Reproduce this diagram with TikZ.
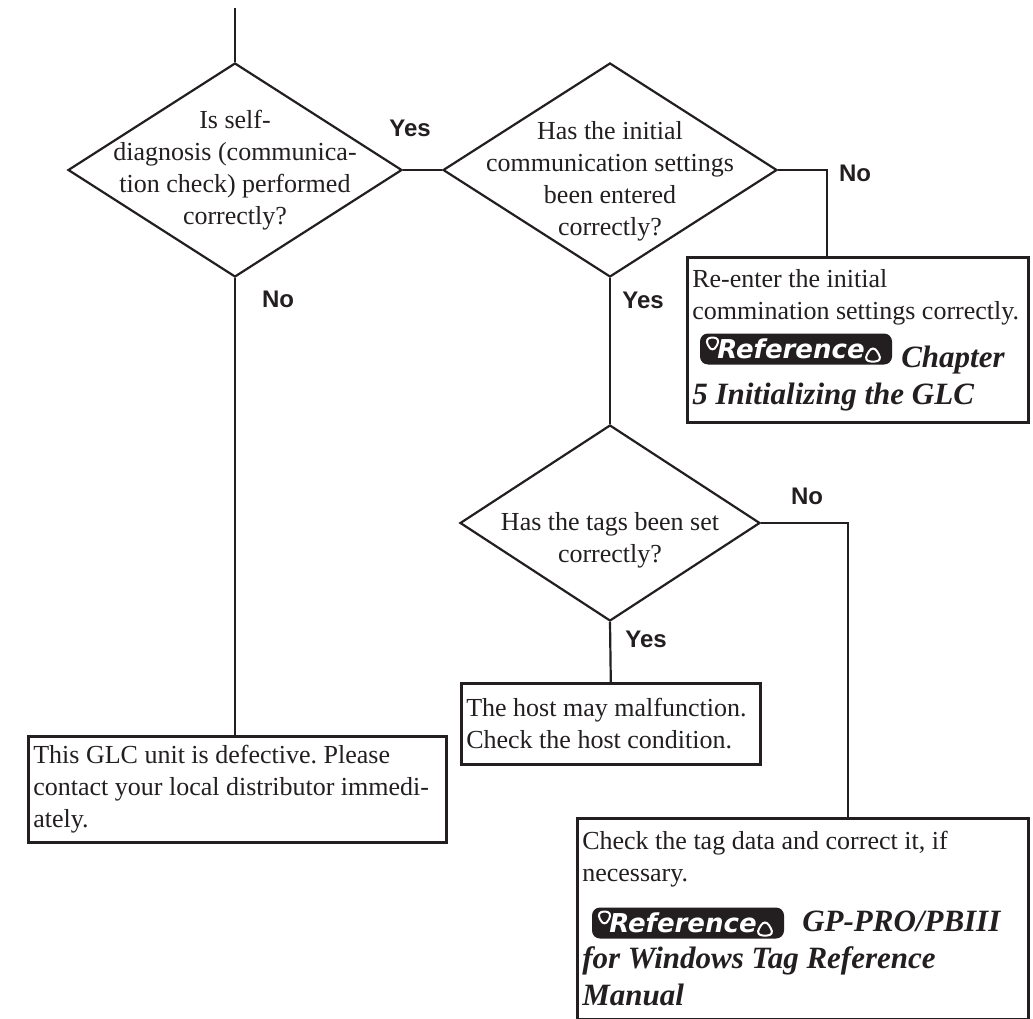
\documentclass[tikz,border=0pt]{standalone}
\usepackage{fontspec}
\setmainfont{Liberation Serif}
\setsansfont{Liberation Sans}
\newfontfamily\badgefont{DejaVu Sans}
\usetikzlibrary{shapes.geometric,shadows,calc,positioning}
\definecolor{ink}{HTML}{231F20}
\definecolor{shade}{HTML}{A0A0A0}
\frenchspacing
\tikzset{
  body/.style={font=\fontsize{26}{32}\selectfont},
  decision/.style={
    diamond, draw=ink, line width=2.2pt, fill=white, inner sep=0pt,
    minimum width=334pt, minimum height=214pt
  },
  qtext/.style={body, align=center, inner sep=0pt, text=ink},
  infobox/.style={
    rectangle, draw=ink, line width=2.6pt, fill=white, text=ink, body,
    align=flush left, anchor=north west, inner xsep=5pt, inner ysep=8pt,
    drop shadow={shadow xshift=1.5pt, shadow yshift=-1.5pt, fill=shade, opacity=1}
  },
  answer/.style={font=\sffamily\bfseries\fontsize{24}{28}\selectfont, text=ink, inner sep=0pt},
  refbadge/.style={
    rectangle, rounded corners=8pt, fill=ink, text=white, inner sep=0pt,
    font=\badgefont\bfseries\itshape\fontsize{26}{30}\selectfont,
    minimum width=192pt, minimum height=31pt,
    path picture={
      \draw[white, line width=2pt, line join=miter]
        ($(path picture bounding box.north west)+(4pt,-4pt)$) -- ++(17pt,0pt) -- ++(-8.5pt,-16pt) -- cycle;
      \draw[white, line width=2pt, line join=miter]
        ($(path picture bounding box.south east)+(-29pt,3pt)$) -- ++(20pt,0pt) -- ++(-10pt,17pt) -- cycle;
    }
  },
  link/.style={draw=ink, line width=2.2pt}
}
\newcommand{\reffont}{\fontsize{31}{37}\selectfont\bfseries\itshape}

\begin{document}
\begin{tikzpicture}[x=1pt,y=-1pt]
  \useasboundingbox (0,0) rectangle (1033,1019);

  % ---- Decisions ----
  \coordinate (entry) at (235,8);
  \node[decision] (selfdiag) at (235,170) {};
  \node[decision] (initset)  at (610,170) {};
  \node[decision, minimum width=300pt, minimum height=196pt] (tagset) at (610,523) {};

  \node[qtext] (selfdiagq) at (selfdiag) {Is self-\\diagnosis (communica-\\tion check) performed\\correctly?};
  \node[qtext, yshift=-11pt] (initsetq) at (initset) {Has the initial\\communication settings\\been entered\\correctly?};
  \node[qtext, yshift=-17pt] (tagsetq) at (tagset) {Has the tags been set\\correctly?};

  % ---- Outcomes ----
  \node[infobox, text width=408pt, minimum height=106pt] (defect) at (27,735)
    {This GLC unit is defective. Please\\contact your local distributor immedi-\\ately.};
  \node[infobox, text width=289pt, minimum height=81pt] (host) at (460,682)
    {The host may malfunction.\\Check the host condition.};
  \node[infobox, text width=331pt, minimum height=165pt] (reenter) at (686,256)
    {Re-enter the initial\\commination settings correctly.\par\vspace{11pt}%
     {\reffont\hspace*{209pt}Chapter\\5 Initializing the GLC\par}};
  \node[infobox, text width=441pt, minimum height=201pt] (fixtag) at (576,817)
    {Check the tag data and correct it, if\\necessary.\par\vspace{13pt}%
     {\reffont\hspace*{220pt}GP-PRO/PBIII\\for Windows Tag Reference\\Manual\par}};

  \node[refbadge] (chapref) at (796,349) {Reference\hspace*{10pt}};
  \node[refbadge] (manref)  at (688,923) {Reference\hspace*{10pt}};

  % ---- Edges ----
  \coordinate (kn2) at (827,170);
  \coordinate (kn3) at (848,523);
  \draw[link] (entry) -- (selfdiag.north);
  \draw[link] (selfdiag.east) -- (initset.west);
  \draw[link] (selfdiag.south) -- (selfdiag.south |- defect.north);
  \draw[link] (initset.south) -- (tagset.north);
  \draw[link] (initset.east) -- (kn2) -- (kn2 |- reenter.north);
  \draw[link] (tagset.east) -- (kn3) -- (kn3 |- fixtag.north);
  \draw[link] (tagset.south) -- (host.north);

  % ---- Answers ----
  \node[answer] (yes1) at (410,128) {Yes};
  \node[answer] (no1)  at (278,299) {No};
  \node[answer] (yes2) at (643,300) {Yes};
  \node[answer] (no2)  at (855,173) {No};
  \node[answer] (yes3) at (646,639) {Yes};
  \node[answer] (no3)  at (807,496) {No};
\end{tikzpicture}
\end{document}
